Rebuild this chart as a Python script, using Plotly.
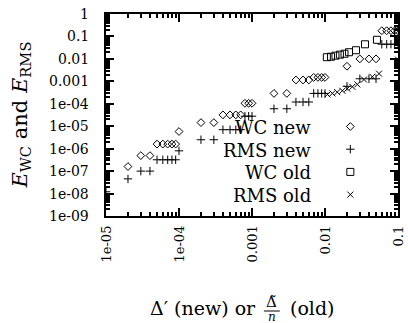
import math
import plotly.graph_objects as go

# ---------------- data ----------------
x_new = [1e-5, 2e-5, 3e-5, 4e-5, 5e-5, 6e-5, 7e-5, 8e-5, 9e-5,
         1e-4, 2e-4, 3e-4, 4e-4, 5e-4, 6e-4, 7e-4, 8e-4, 9e-4,
         1e-3, 2e-3, 3e-3, 4e-3, 5e-3, 6e-3, 7e-3, 8e-3, 9e-3,
         1e-2, 2e-2, 3e-2, 4e-2, 5e-2, 6e-2, 7e-2, 8e-2, 9e-2, 1e-1]
wc_new = [7.5e-8, 1.6e-7, 4.9e-7, 4.9e-7, 1.6e-6, 1.6e-6, 1.6e-6, 1.6e-6, 1.6e-6,
          5.8e-6, 1.45e-5, 1.45e-5, 3.2e-5, 3.2e-5, 3.2e-5, 3.2e-5, 1.05e-4, 1.05e-4,
          1.05e-4, 2.9e-4, 2.9e-4, 1.15e-3, 1.15e-3, 1.15e-3, 1.5e-3, 1.5e-3, 1.5e-3,
          1.5e-3, 4.7e-3, 1.0e-2, 1.0e-2, 1.0e-2, 0.18, 0.18, 0.18, 0.18, 0.18]
rms_new = [1.2e-8, 4.5e-8, 1.0e-7, 1.0e-7, 3.2e-7, 3.2e-7, 3.2e-7, 3.2e-7, 3.2e-7,
           8.0e-7, 2.5e-6, 2.5e-6, 7.0e-6, 7.0e-6, 7.0e-6, 7.0e-6, 2.8e-5, 2.8e-5,
           2.8e-5, 6.0e-5, 6.0e-5, 1.2e-4, 1.2e-4, 1.2e-4, 2.9e-4, 2.9e-4, 2.9e-4,
           2.9e-4, 6.0e-4, 1.3e-3, 1.3e-3, 1.3e-3, 0.045, 0.045, 0.045, 0.045, 0.045]

x_wc_old = [0.0106, 0.0121, 0.0139, 0.016, 0.0185, 0.0213, 0.0266, 0.0353, 0.0515, 0.1]
wc_old = [0.0119, 0.0125, 0.0139, 0.0154, 0.017, 0.0198, 0.0243, 0.0447, 0.0708, 0.16]

x_rms_old = [0.0108, 0.0126, 0.0147, 0.0173, 0.0202, 0.0237, 0.0277, 0.0342, 0.0445, 0.055, 0.1]
rms_old = [2.6e-4, 2.9e-4, 3.3e-4, 3.8e-4, 4.7e-4, 5.7e-4, 7.3e-4, 1.2e-3, 1.6e-3, 2.2e-3, 9.2e-3]

x_tick_vals = [1e-5, 1e-4, 1e-3, 1e-2, 1e-1]
x_tick_text = ["1e-05", "1e-04", "0.001", "0.01", "0.1"]
y_tick_vals = [1e-9, 1e-8, 1e-7, 1e-6, 1e-5, 1e-4, 1e-3, 1e-2, 1e-1, 1]
y_tick_text = ["1e-09", "1e-08", "1e-07", "1e-06", "1e-05", "1e-04",
               "0.001", "0.01", "0.1", "1"]

legend_labels = ["WC new", "RMS new", "WC old", "RMS old"]

# ---------------- layout geometry ----------------
W, H = 408, 323
L, R, T, B = 106, 8, 14, 107
PW, PH = W - L - R, H - T - B
FONT = "DejaVu Serif"
X_RANGE = [-5, -1]
Y_RANGE = [-9, 0]


def px_x(px):
    return (px - L) / PW


def px_y(py):
    return (H - B - py) / PH


def key_data_x(px):
    return 10 ** (X_RANGE[0] + (X_RANGE[1] - X_RANGE[0]) * px_x(px))


def key_data_y(py):
    return 10 ** (Y_RANGE[0] + (Y_RANGE[1] - Y_RANGE[0]) * px_y(py))


symbols = ["diamond-open", "cross-thin-open", "square-open", "x-thin-open"]
sizes = [6, 6, 7, 6]
series = [(x_new, wc_new), (x_new, rms_new), (x_wc_old, wc_old), (x_rms_old, rms_old)]

fig = go.Figure()
for (xs, ys), sym, sz, name in zip(series, symbols, sizes, legend_labels):
    fig.add_trace(go.Scatter(
        x=xs, y=ys, mode="markers", name=name, showlegend=False,
        marker=dict(symbol=sym, size=sz, color="black",
                    line=dict(color="black", width=1)),
    ))

annotations = []

# y tick labels (placed away from the axis like the reference)
for v, t in zip(y_tick_vals, y_tick_text):
    annotations.append(dict(
        text=t, xref="paper", yref="y", x=px_x(91), y=math.log10(v),
        xanchor="right", yanchor="middle", showarrow=False,
        font=dict(family=FONT, size=14, color="black"),
    ))
# x tick labels, rotated, starting below the axis
for v, t in zip(x_tick_vals, x_tick_text):
    annotations.append(dict(
        text=t, xref="x", yref="paper", x=math.log10(v), y=px_y(224),
        xanchor="center", yanchor="top", textangle=-90, showarrow=False,
        font=dict(family=FONT, size=13, color="black"),
    ))

# custom gnuplot-style key: text right-aligned, symbol on the right
row0, row_step = 126.5, 22.7
for i, (name, sym, sz) in enumerate(zip(legend_labels, symbols, sizes)):
    ry = row0 + i * row_step
    fig.add_trace(go.Scatter(
        x=[key_data_x(352)], y=[key_data_y(ry)], mode="markers",
        showlegend=False, hoverinfo="skip",
        marker=dict(symbol=sym, size=sz, color="black",
                    line=dict(color="black", width=1)),
    ))
    annotations.append(dict(
        text=name, xref="paper", yref="paper", x=px_x(314), y=px_y(ry + 1),
        xanchor="right", yanchor="middle", showarrow=False,
        font=dict(family=FONT, size=18, color="black"),
    ))

# y-axis title
annotations.append(dict(
    text="<i>E</i><sub>WC</sub> and <i>E</i><sub>RMS</sub>",
    xref="paper", yref="paper", x=px_x(20), y=px_y(115),
    xanchor="center", yanchor="middle", textangle=-90, showarrow=False,
    font=dict(family=FONT, size=21, color="black"),
))
# x-axis title (with fraction)
annotations.append(dict(
    text="Δ′ (new) or", xref="paper", yref="paper", x=px_x(259), y=px_y(308),
    xanchor="right", yanchor="middle", showarrow=False,
    font=dict(family=FONT, size=19, color="black"),
))
annotations.append(dict(
    text="Δ\u0303", xref="paper", yref="paper", x=px_x(273), y=px_y(302),
    xanchor="center", yanchor="middle", showarrow=False,
    font=dict(family=FONT, size=15, color="black"),
))
annotations.append(dict(
    text="<i>n</i>", xref="paper", yref="paper", x=px_x(273), y=px_y(316.5),
    xanchor="center", yanchor="middle", showarrow=False,
    font=dict(family=FONT, size=12, color="black"),
))
annotations.append(dict(
    text="(old)", xref="paper", yref="paper", x=px_x(289), y=px_y(308),
    xanchor="left", yanchor="middle", showarrow=False,
    font=dict(family=FONT, size=19, color="black"),
))

shapes = [dict(type="line", xref="paper", yref="paper",
               x0=px_x(265), x1=px_x(281), y0=px_y(311), y1=px_y(311),
               line=dict(color="black", width=1))]

axis_common = dict(
    type="log", showgrid=False, zeroline=False, showline=True,
    linecolor="black", linewidth=1.5, mirror="ticks", ticks="inside",
    ticklen=8, tickwidth=1.5, tickcolor="black", tickmode="array",
    showticklabels=False,
    minor=dict(ticks="inside", ticklen=4, tickwidth=1.5, tickcolor="black",
               dtick="D1", showgrid=False),
)

fig.update_layout(
    width=W, height=H,
    margin=dict(l=L, r=R, t=T, b=B, pad=0),
    paper_bgcolor="white", plot_bgcolor="white",
    showlegend=False,
    xaxis=dict(**axis_common, range=X_RANGE, tickvals=x_tick_vals),
    yaxis=dict(**axis_common, range=Y_RANGE, tickvals=y_tick_vals),
    annotations=annotations,
    shapes=shapes,
)

fig.write_html(
    "out.html",
    config={"displayModeBar": False},
    post_script="document.body.style.margin='0';document.body.style.padding='0';",
)
